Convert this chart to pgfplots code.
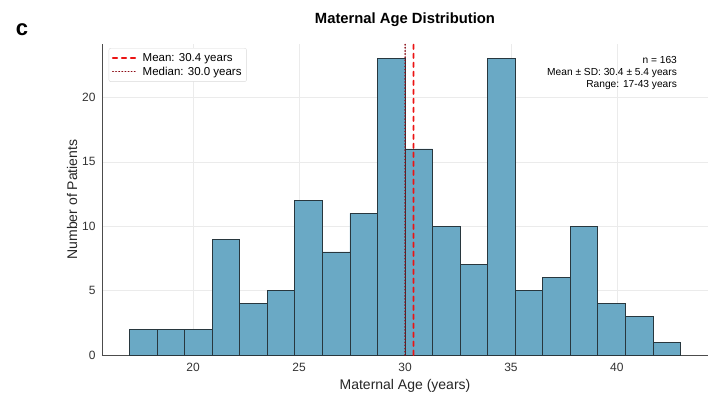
\documentclass[border=0pt]{standalone}
\usepackage{pgfplots}
\pgfplotsset{compat=1.18}
\usepackage{fontspec}
\setmainfont{Liberation Sans}
\definecolor{barfill}{RGB}{106,169,197}
\definecolor{baredge}{RGB}{40,55,62}
\definecolor{gridc}{RGB}{235,235,235}
\definecolor{meanred}{RGB}{235,20,20}
\definecolor{meddark}{RGB}{140,10,20}
\begin{document}
\begin{tikzpicture}
\path[use as bounding box] (-102pt,-50pt) rectangle (607pt,355pt);
\begin{axis}[
  scale only axis,
  width=606pt, height=311pt,
  xmin=15.7, xmax=44.3,
  ymin=0, ymax=24.15,
  axis lines*=left,
  axis line style={draw=black!70, line width=0.9pt},
  xtick={20,25,30,35,40},
  ytick={0,5,10,15,20},
  tick style={draw=none},
  grid=major,
  major grid style={draw=gridc, line width=0.6pt},
  /pgf/number format/assume math mode=true,
  ticklabel style={font=\fontsize{12}{14}\selectfont, text=black!80},
  xticklabel style={yshift=-5pt},
  yticklabel style={xshift=-3pt},
  xlabel={Maternal Age (years)},
  ylabel={Number of Patients},
  label style={font=\fontsize{14}{16}\selectfont, text=black!85},
  ylabel style={yshift=-2pt},
  title={\textbf{Maternal Age Distribution}},
  title style={font=\fontsize{14.8}{17}\selectfont, yshift=8pt},
  legend style={at={(rel axis cs:0.011,0.987)}, anchor=north west,
    draw=black!15, rounded corners=2pt, font=\fontsize{11.5}{14}\selectfont,
    row sep=0pt, inner sep=3pt},
  legend cell align=left,
  legend image code/.code={\draw[#1] (0cm,0cm) -- (0.8cm,0cm); \path (0.95cm,0cm);},
  clip=false,
]
\addplot[ybar interval, fill=barfill, draw=baredge, line width=0.8pt, forget plot]
coordinates {
(17.0,2) (18.3,2) (19.6,2) (20.9,9) (22.2,4) (23.5,5) (24.8,12) (26.1,8)
(27.4,11) (28.7,23) (30.0,16) (31.3,10) (32.6,7) (33.9,23) (35.2,5)
(36.5,6) (37.8,10) (39.1,4) (40.4,3) (41.7,1) (43.0,1)
};
\addplot[color=meanred, line width=1.8pt, line cap=round, dash pattern=on 4.4pt off 4.6pt] coordinates {(30.4,0) (30.405,24.15)};
\addlegendentry{Mean: 30.4 years}
\addplot[color=meddark, line width=1.5pt, line cap=round, dash pattern=on 0.5pt off 2.6pt] coordinates {(30.0,0) (30.005,24.15)};
\addlegendentry{Median: 30.0 years}
\node[anchor=north east, align=right, font=\fontsize{10.2}{12}\selectfont, inner sep=0pt]
  at (rel axis cs:0.949,0.96) {n = 163\\Mean ± SD: 30.4 ± 5.4 years\\Range: 17-43 years};
\end{axis}
\node[font=\fontsize{22}{24}\selectfont\bfseries, anchor=center] at (-80pt,325pt) {c};
\end{tikzpicture}
\end{document}
